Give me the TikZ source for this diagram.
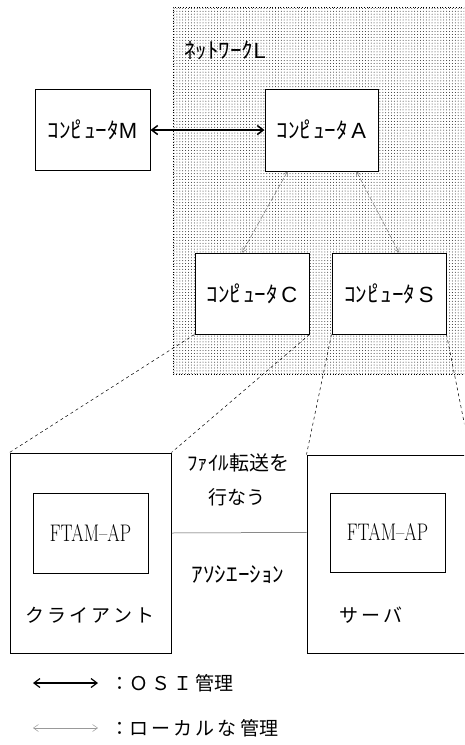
\documentclass[tikz,border=0pt]{standalone}
\usepackage{fontspec}
\setmainfont{Noto Sans CJK JP}
\newfontfamily\jp{Noto Sans CJK JP}
\newfontfamily\jpw[FakeStretch=1.05]{Noto Sans CJK JP}
\newfontfamily\lat{Liberation Sans}
\newfontfamily\ftamfont[FakeStretch=0.75]{Latin Modern Roman}
\newcommand{\kompyuta}{ｺﾝﾋ\kern-0.3em ﾟ\kern-0.15em ｭｰﾀ}
\usetikzlibrary{patterns.meta,arrows.meta}
\begin{document}
\begin{tikzpicture}[x=1pt,y=-1pt,
  box/.style={draw, line width=1pt, fill=white, inner sep=0pt},
  local/.style={draw=black!55, line width=0.5pt, dash pattern=on 5pt off 2pt,
     {Straight Barb[length=4pt,width=5pt]}-{Straight Barb[length=4pt,width=5pt]}},
  osi/.style={line width=1.5pt, {Straight Barb[length=6pt,width=9pt]}-{Straight Barb[length=6pt,width=9pt]}},
  proj/.style={line width=0.5pt, dash pattern=on 3pt off 3pt},
  lbl/.style={inner sep=0pt, font=\jpw\fontsize{22}{24}\selectfont},
  cname/.style={box, font=\jpw\fontsize{22}{24}\selectfont},
  ftam/.style={box, font=\ftamfont\fontsize{24}{24}\selectfont},
  big/.style={inner sep=0pt, font=\jp\fontsize{19}{22}\selectfont}]
\useasboundingbox (0,0) rectangle (464,745);
\begin{scope}
\clip (0,0) rectangle (464,745);
% network area
\fill[pattern={Dots[distance=2.9pt,radius=0.5pt]}, pattern color=black!85] (173,7) rectangle (470,374);
\draw[dotted, line width=0.7pt] (470,7) -- (173,7) -- (173,374) -- (470,374);
\node[lbl, anchor=west] (netl) at (184,50) {ﾈｯﾄﾜｰｸ{\lat\fontsize{22}{22}\selectfont L}};

% computers
\node[cname, minimum width=115, minimum height=81] (M) at (92.5,130)
  {\kompyuta{\lat\fontsize{22}{22}\selectfont M}};
\node[cname, minimum width=113, minimum height=82] (A) at (321.5,130)
  {\kompyuta\,{\lat\fontsize{22}{22}\selectfont A}};
\node[cname, minimum width=114, minimum height=81] (C) at (252,293.5)
  {\kompyuta\,{\lat\fontsize{22}{22}\selectfont C}};
\node[cname, minimum width=114, minimum height=81] (S) at (389,293.5)
  {\kompyuta\,{\lat\fontsize{22}{22}\selectfont S}};

\draw[osi] (M) -- (A);
\draw[local] ([xshift=-34pt]A.south) -- ([xshift=-10pt]C.north);
\draw[local] ([xshift=35pt]A.south) -- ([xshift=10pt]S.north);

% client / server
\node[box, minimum width=161, minimum height=200] (client) at (90.5,553) {};
\node[box, minimum width=163, minimum height=198] (server) at (388.5,554) {};
\node[ftam, minimum width=115, minimum height=80] (ftc) at (90.5,533) {FTAM–AP};
\node[ftam, minimum width=115, minimum height=79] (fts) at (387.5,532.5) {FTAM–AP};
\node[big] (cl) at (90,615) {ク\,ラ\,イ\,ア\,ン\,ト};
\node[big] (sv) at (371,615) {サ\,ー\,バ};

\draw[proj] (C.south west) -- (client.north west);
\draw[proj] (C.south east) -- (client.north east);
\draw[proj] (S.south west) -- (server.north west);
\draw[proj] (S.south east) -- (server.north east);

\draw[line width=0.5pt, black!70] (ftc.east -| client.east) -- (fts.west -| server.west);
\node[inner sep=0pt] (ft1) at (238,463) {{\jpw\fontsize{20}{20}\selectfont ﾌｧｲﾙ}{\jp\fontsize{20}{20}\selectfont 転送を}};
\node[big] (ft2) at (237,497) {行なう};
\node[lbl] (as) at (238,575) {ｱｿｼｴｰｼｮﾝ};

% legend
\coordinate (la1) at (33,683);
\coordinate (lb1) at (98,683);
\coordinate (la2) at (33,728);
\coordinate (lb2) at (98,728);
\draw[osi, line width=1.2pt] (la1) -- (lb1);
\draw[draw=black!40, line width=0.5pt, {Straight Barb[length=5pt,width=7pt]}-{Straight Barb[length=5pt,width=7pt]}] (la2) -- (lb2);
\node[big, anchor=west] (leg1) at (110,683) {：Ｏ\,Ｓ\,Ｉ\,管理};
\node[big, anchor=west] (leg2) at (110,728) {：ロ\,ー\,カ\,ル\,な\,管理};
\end{scope}
\end{tikzpicture}
\end{document}
